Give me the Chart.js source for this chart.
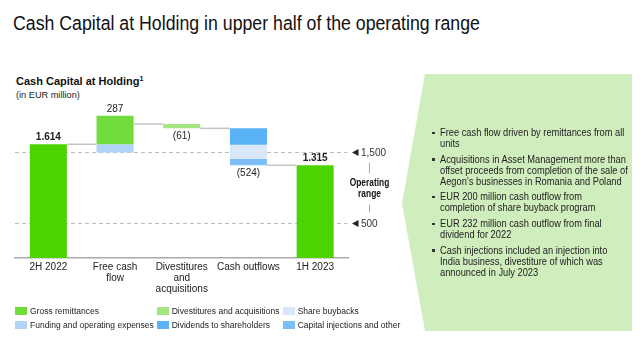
<!DOCTYPE html>
<html>
<head>
<meta charset="utf-8">
<script src="https://cdn.jsdelivr.net/npm/chart.js@4.4.0/dist/chart.umd.min.js"></script>
<style>
  html, body { margin: 0; padding: 0; background: #fff; }
  body { width: 640px; height: 340px; position: relative; overflow: hidden; font-family: "Liberation Sans", Arial, sans-serif; color: #222; }
  #chart { position: absolute; left: 0; top: 0; z-index: 1; }
  .title { position: absolute; left: 13px; top: 13px; font-size: 20px; line-height: 20px; color: #111; white-space: nowrap; transform: scaleX(0.886); transform-origin: 0 0; }
  .chart-title { position: absolute; left: 16px; top: 75.5px; font-size: 11px; line-height: 11px; font-weight: bold; color: #111; white-space: nowrap; }
  .chart-title sup { font-size: 7px; line-height: 0; vertical-align: 4px; }
  .unit { position: absolute; left: 16px; top: 91px; font-size: 9.2px; line-height: 9.2px; color: #222; white-space: nowrap; }
  .panel { position: absolute; left: 402px; top: 74px; width: 230px; height: 257px; background: #cfedbd;
           clip-path: polygon(23px 0, 100% 0, 100% 100%, 23px 100%, 0 129px); }
  .bullets { position: absolute; left: 440px; top: 127.3px; z-index: 2; font-size: 10.5px; line-height: 11px; color: #222; }
  .bullets div { position: relative; margin-bottom: 4.6px; white-space: nowrap; }
  .bullets div span { display: inline-block; transform: scaleX(0.885); transform-origin: 0 0; }
  .bullets div::before { content: ""; position: absolute; left: -8px; top: 4.5px; width: 2.5px; height: 2.5px; background: #333; }
  #legend { position: absolute; left: 15px; top: 304.5px; z-index: 2; display: grid; grid-template-columns: 141.7px 126px auto; grid-template-rows: 13.4px 13.4px; grid-auto-flow: column; font-size: 8.5px; color: #222; }
  #legend span.item { display: flex; align-items: center; white-space: nowrap; }
  #legend i { display: inline-block; width: 12px; height: 8px; margin-right: 3px; }
</style>
</head>
<body>
<div class="title">Cash Capital at Holding in upper half of the operating range</div>
<div class="chart-title">Cash Capital at Holding<sup>1</sup></div>
<div class="unit">(in EUR million)</div>
<div class="panel"></div>
<div class="bullets">
  <div><span>Free cash flow driven by remittances from all<br>units</span></div>
  <div><span>Acquisitions in Asset Management more than<br>offset proceeds from completion of the sale of<br>Aegon’s businesses in Romania and Poland</span></div>
  <div><span>EUR 200 million cash outflow from<br>completion of share buyback program</span></div>
  <div><span>EUR 232 million cash outflow from final<br>dividend for 2022</span></div>
  <div><span>Cash injections included an injection into<br>India business, divestiture of which was<br>announced in July 2023</span></div>
</div>
<canvas id="chart" width="640" height="340"></canvas>
<div id="legend"></div>
<script>
// categories and values (EUR million)
const categories = [['2H 2022'], ['Free cash', 'flow'], ['Divestitures', 'and', 'acquisitions'], ['Cash outflows'], ['1H 2023']];
const holdingTotals = [1614, null, null, null, 1315];
const grossRemittances = [null, 404, null, null, null];
const fundingExpenses = [null, -117, null, null, null];
const divestitures = [null, null, -61, null, null];
const dividends = [null, null, null, -232, null];
const shareBuybacks = [null, null, null, -200, null];
const capitalInjections = [null, null, null, -92, null];
const valueLabels = ['1.614', '287', '(61)', '(524)', '1.315'];
const rangeLevels = [1500, 500];
const rangeLabels = ['1,500', '500'];

const seriesNames = ['Gross remittances', 'Funding and operating expenses', 'Divestitures and acquisitions',
                     'Dividends to shareholders', 'Share buybacks', 'Capital injections and other'];
const seriesColors = ['#71dc3c', '#b0d5f8', '#a4e581', '#5ab2f7', '#d8e8f8', '#7ebef6'];
const totalColor = '#4dd300';

// turn the steps into floating bars
const steps = [grossRemittances, fundingExpenses, divestitures, dividends, shareBuybacks, capitalInjections];
const ranges = steps.map(() => categories.map(() => null));
const levels = [];
let level = holdingTotals[0];
levels.push(level);
for (let j = 1; j < categories.length - 1; j++) {
    let up = level, down = level, net = 0;
    steps.forEach((s, i) => {
        const v = s[j];
        if (v == null) return;
        if (v >= 0) { ranges[i][j] = [up, up + v]; up += v; }
        else { ranges[i][j] = [down + v, down]; down += v; }
        net += v;
    });
    level += net;
    levels.push(level);
}

const barStyle = { grouped: false, barPercentage: 0.555, categoryPercentage: 1, borderWidth: 0 };
const datasets = [{
    label: 'Total',
    data: holdingTotals.map(v => v == null ? null : [0, v]),
    backgroundColor: totalColor,
    ...barStyle
}];
steps.forEach((s, i) => {
    datasets.push({ label: seriesNames[i], data: ranges[i], backgroundColor: seriesColors[i], ...barStyle });
});

const overlay = {
    id: 'overlay',
    beforeDatasetsDraw(chart) {
        const { ctx, chartArea, scales: { y } } = chart;
        ctx.save();
        ctx.strokeStyle = '#bdbdbd';
        ctx.lineWidth = 1;
        ctx.setLineDash([4, 3]);
        rangeLevels.forEach(v => {
            const py = Math.round(y.getPixelForValue(v)) + 0.5;
            ctx.beginPath();
            ctx.moveTo(chartArea.left, py);
            ctx.lineTo(chartArea.right - 1, py);
            ctx.stroke();
        });
        ctx.restore();
    },
    afterDatasetsDraw(chart) {
        const { ctx, scales: { x, y } } = chart;
        const half = chart.getDatasetMeta(0).data[0].width / 2;
        ctx.save();

        // connectors between bars
        ctx.strokeStyle = '#c4c4c4';
        ctx.lineWidth = 1.5;
        levels.forEach((lv, j) => {
            const py = y.getPixelForValue(lv);
            ctx.beginPath();
            ctx.moveTo(x.getPixelForValue(j) + half, py);
            ctx.lineTo(x.getPixelForValue(j + 1) - half, py);
            ctx.stroke();
        });

        // value labels
        ctx.fillStyle = '#222';
        ctx.textAlign = 'center';
        ctx.textBaseline = 'middle';
        categories.forEach((c, j) => {
            let top = -Infinity, bottom = Infinity, net = 0;
            if (holdingTotals[j] != null) { top = holdingTotals[j]; bottom = 0; }
            ranges.forEach(r => {
                if (r[j]) { top = Math.max(top, r[j][1]); bottom = Math.min(bottom, r[j][0]); }
            });
            steps.forEach(s => { if (s[j] != null) net += s[j]; });
            const isTotal = holdingTotals[j] != null;
            ctx.font = (isTotal ? 'bold ' : '') + '10px "Liberation Sans", Arial, sans-serif';
            const px = x.getPixelForValue(j);
            if (isTotal || net >= 0) ctx.fillText(valueLabels[j], px, y.getPixelForValue(top) - 7);
            else ctx.fillText(valueLabels[j], px, y.getPixelForValue(bottom) + 7.5);
        });

        // operating range marks
        ctx.textAlign = 'left';
        ctx.font = '10px "Liberation Sans", Arial, sans-serif';
        const ys = rangeLevels.map(v => Math.round(y.getPixelForValue(v)) + 0.5);
        ys.forEach((py, i) => {
            ctx.fillStyle = '#222';
            ctx.beginPath();
            ctx.moveTo(352, py);
            ctx.lineTo(358.5, py - 3.5);
            ctx.lineTo(358.5, py + 3.5);
            ctx.closePath();
            ctx.fill();
            ctx.fillStyle = '#333';
            ctx.fillText(rangeLabels[i], 361, py + 0.5);
        });
        const mid = (ys[0] + ys[1]) / 2;
        ctx.strokeStyle = '#aaa';
        ctx.lineWidth = 1;
        ctx.beginPath();
        ctx.moveTo(369.5, ys[0] + 10); ctx.lineTo(369.5, ys[0] + 21);
        ctx.moveTo(369.5, ys[1] - 19); ctx.lineTo(369.5, ys[1] - 11);
        ctx.stroke();
        // narrow bold label
        ctx.fillStyle = '#111';
        ctx.textAlign = 'center';
        ctx.font = 'bold 11px "Liberation Sans", Arial, sans-serif';
        ctx.translate(369.5, mid);
        ctx.scale(0.76, 1);
        ctx.fillText('Operating', 0, -5);
        ctx.fillText('range', 0, 5.5);
        ctx.restore();
    }
};

new Chart(document.getElementById('chart'), {
    type: 'bar',
    data: { labels: categories, datasets: datasets },
    options: {
        responsive: false,
        animation: false,
        layout: { padding: { left: 15, right: 291.5, top: 103, bottom: 0 } },
        plugins: { legend: { display: false }, tooltip: { enabled: false } },
        scales: {
            x: {
                grid: { display: false, drawTicks: false },
                border: { display: true, color: '#aaa', width: 1.5 },
                ticks: {
                    color: '#222',
                    font: { family: '"Liberation Sans", Arial, sans-serif', size: 10, lineHeight: 1.1 },
                    padding: 3.5, maxRotation: 0, autoSkip: false
                },
                afterFit(scale) { scale.height = 82; }
            },
            y: { display: false, min: 0, max: 2200 }
        }
    },
    plugins: [overlay]
});

// legend (column order like the slide)
const legend = document.getElementById('legend');
seriesNames.forEach((name, i) => {
    const item = document.createElement('span');
    item.className = 'item';
    item.innerHTML = '<i style="background:' + seriesColors[i] + '"></i>' + name;
    legend.appendChild(item);
});
</script>
</body>
</html>
